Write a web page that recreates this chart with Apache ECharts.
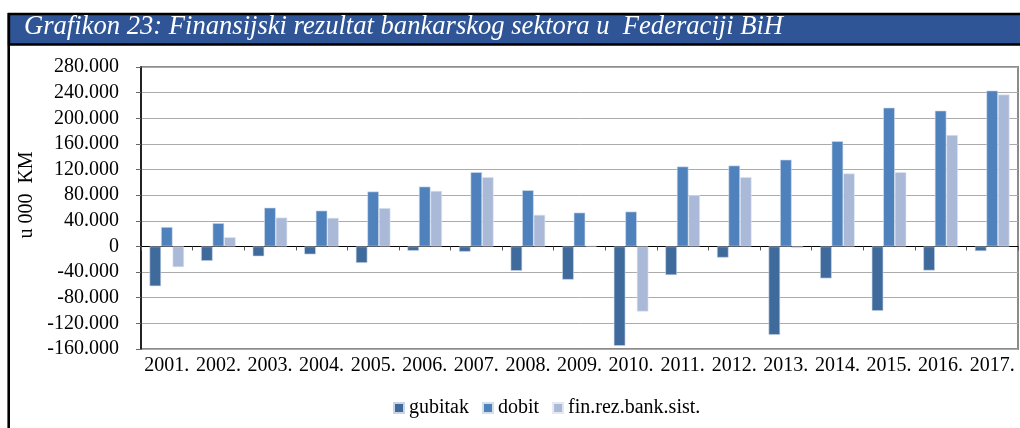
<!DOCTYPE html>
<html>
<head>
<meta charset="utf-8">
<title>Grafikon 23</title>
<script src="https://cdn.jsdelivr.net/npm/echarts@6.0.0/dist/echarts.min.js"></script>
<style>
  html, body { margin: 0; padding: 0; background: #fff; }
  #chart { width: 1020px; height: 428px; }
</style>
</head>
<body>
<div id="chart"></div>
<script>
// podaci (u 000 KM)
var years = ['2001.', '2002.', '2003.', '2004.', '2005.', '2006.', '2007.', '2008.', '2009.',
  '2010.', '2011.', '2012.', '2013.', '2014.', '2015.', '2016.', '2017.'];
var gubitak = [-62000, -22500, -15400, -12300, -25700, -6700, -8200, -38000, -51800,
  -155000, -44600, -17400, -138000, -49800, -100500, -37500, -7200];
var dobit = [30300, 36400, 60500, 55900, 85700, 93400, 115900, 87700, 52800,
  54400, 124700, 126200, 135400, 164200, 216500, 211900, 243200];
var finRez = [-32300, 14400, 45100, 44600, 60000, 86700, 108200, 49300, 1000,
  -101600, 80000, 108200, -2500, 113900, 115900, 173900, 237000];
var seriesNames = ['gubitak', 'dobit', 'fin.rez.bank.sist.'];

var serif = '"Liberation Serif", serif';

var chart = echarts.init(document.getElementById('chart'));

function fmt(v) {
  if (v === 0) { return '0'; }
  return (v < 0 ? '-' : '') + (Math.abs(v) / 1000) + '.000';
}

var legendText = { fontFamily: serif, fontSize: 20, color: '#000' };

var barBase = {
  type: 'bar',
  barGap: '0%',
  barCategoryGap: '33%',
  xAxisIndex: 0
};

var option = {
  animation: false,
  backgroundColor: '#fff',
  textStyle: { fontFamily: serif, color: '#000' },
  title: {
    text: 'Grafikon 23: Finansijski rezultat bankarskog sektora u  Federaciji BiH',
    left: 24,
    top: 13,
    padding: 0,
    textStyle: {
      fontFamily: serif,
      fontStyle: 'italic',
      fontWeight: 'normal',
      fontSize: 26.6,
      color: '#fff'
    }
  },
  graphic: [
    {
      type: 'rect', z: -1,
      shape: { x: 9, y: 14, width: 1015, height: 30.5 },
      style: { fill: '#2F5597', stroke: '#000', lineWidth: 2.4 }
    },
    {
      type: 'line', z: -1,
      shape: { x1: 8.7, y1: 13, x2: 8.7, y2: 430 },
      style: { stroke: '#000', lineWidth: 2.6 }
    }
  ],
  legend: {
    left: 388,
    top: 393,
    icon: 'rect',
    itemWidth: 10,
    itemHeight: 10,
    itemGap: 13,
    textStyle: legendText,
    data: seriesNames.map(function (n) {
      return { name: n, textStyle: legendText };
    })
  },
  grid: {
    left: 141,
    right: 2,
    top: 67,
    bottom: 79,
    show: true,
    borderColor: '#8c8c8c',
    borderWidth: 2,
    containLabel: false
  },
  xAxis: [
    {
      // donja os, samo natpisi
      type: 'category',
      data: years,
      position: 'bottom',
      axisLine: { onZero: false, show: false },
      axisTick: { show: false },
      axisLabel: { interval: 0, margin: 7, fontFamily: serif, fontSize: 20, color: '#000' }
    },
    {
      // linija nule s crticama
      type: 'category',
      data: years,
      position: 'bottom',
      axisLine: { onZero: true, lineStyle: { color: '#000', width: 1.2 } },
      axisTick: { show: true, interval: 0, length: 4, lineStyle: { color: '#555' } },
      axisLabel: { show: false }
    }
  ],
  yAxis: {
    type: 'value',
    min: -160000,
    max: 280000,
    interval: 40000,
    name: 'u 000  KM',
    nameLocation: 'middle',
    nameGap: 100,
    nameTextStyle: { fontFamily: serif, fontSize: 20, color: '#000', padding: [0, 0, 0, 26] },
    axisLine: { show: true, lineStyle: { color: '#000', width: 1.5 } },
    axisTick: { show: true, length: 5, lineStyle: { color: '#666' } },
    axisLabel: { margin: 22, fontFamily: serif, fontSize: 20, color: '#000', formatter: fmt },
    splitLine: { lineStyle: { color: '#ababab', width: 1 } }
  },
  series: [
    Object.assign({}, barBase, {
      name: seriesNames[0], data: gubitak,
      itemStyle: { color: '#3F6A9C', borderColor: '#c9d5e6', borderWidth: 0.6 }
    }),
    Object.assign({}, barBase, {
      name: seriesNames[1], data: dobit,
      itemStyle: { color: '#4F81BD', borderColor: '#d3deec', borderWidth: 0.6 }
    }),
    Object.assign({}, barBase, {
      name: seriesNames[2], data: finRez,
      itemStyle: { color: '#AAB9D7', borderColor: '#e3e9f3', borderWidth: 0.6 }
    })
  ]
};

chart.setOption(option);
</script>
</body>
</html>
